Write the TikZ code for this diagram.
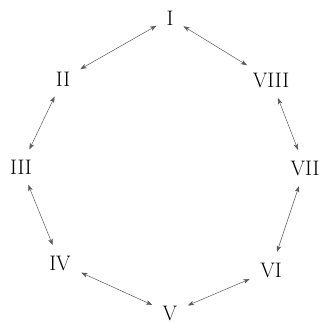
\documentclass[tikz,border=0pt]{standalone}
\usetikzlibrary{arrows.meta}
\definecolor{rmgray}{RGB}{90,90,90}
\tikzset{
  numeral/.style={inner sep=3pt, font=\fontsize{21}{22}\selectfont},
  arrow/.style={{Stealth[length=2.2mm,width=1.6mm,inset=0.6mm]}-{Stealth[length=2.2mm,width=1.6mm,inset=0.6mm]}, line width=0.5pt, rmgray, shorten <=8pt, shorten >=8pt}
}
\begin{document}
\begin{tikzpicture}[x=1pt,y=-1pt]
    \useasboundingbox (0,0) rectangle (325,323);
    \node[numeral] (one) at (170,18) {I};
    \node[numeral] (two) at (63,79) {II};
    \node[numeral] (three) at (21,167) {III};
    \node[numeral] (four) at (60,263) {IV};
    \node[numeral] (five) at (170,313) {V};
    \node[numeral] (six) at (271,270) {VI};
    \node[numeral] (seven) at (305,168) {VII};
    \node[numeral] (eight) at (271,80) {VIII};
    \draw[arrow] (one) -- (two);
    \draw[arrow] (two) -- (three);
    \draw[arrow] (three) -- (four);
    \draw[arrow] (four) -- (five);
    \draw[arrow] (five) -- (six);
    \draw[arrow] (six) -- (seven);
    \draw[arrow] (seven) -- (eight);
    \draw[arrow] (eight) -- (one);
  \end{tikzpicture}
\end{document}
